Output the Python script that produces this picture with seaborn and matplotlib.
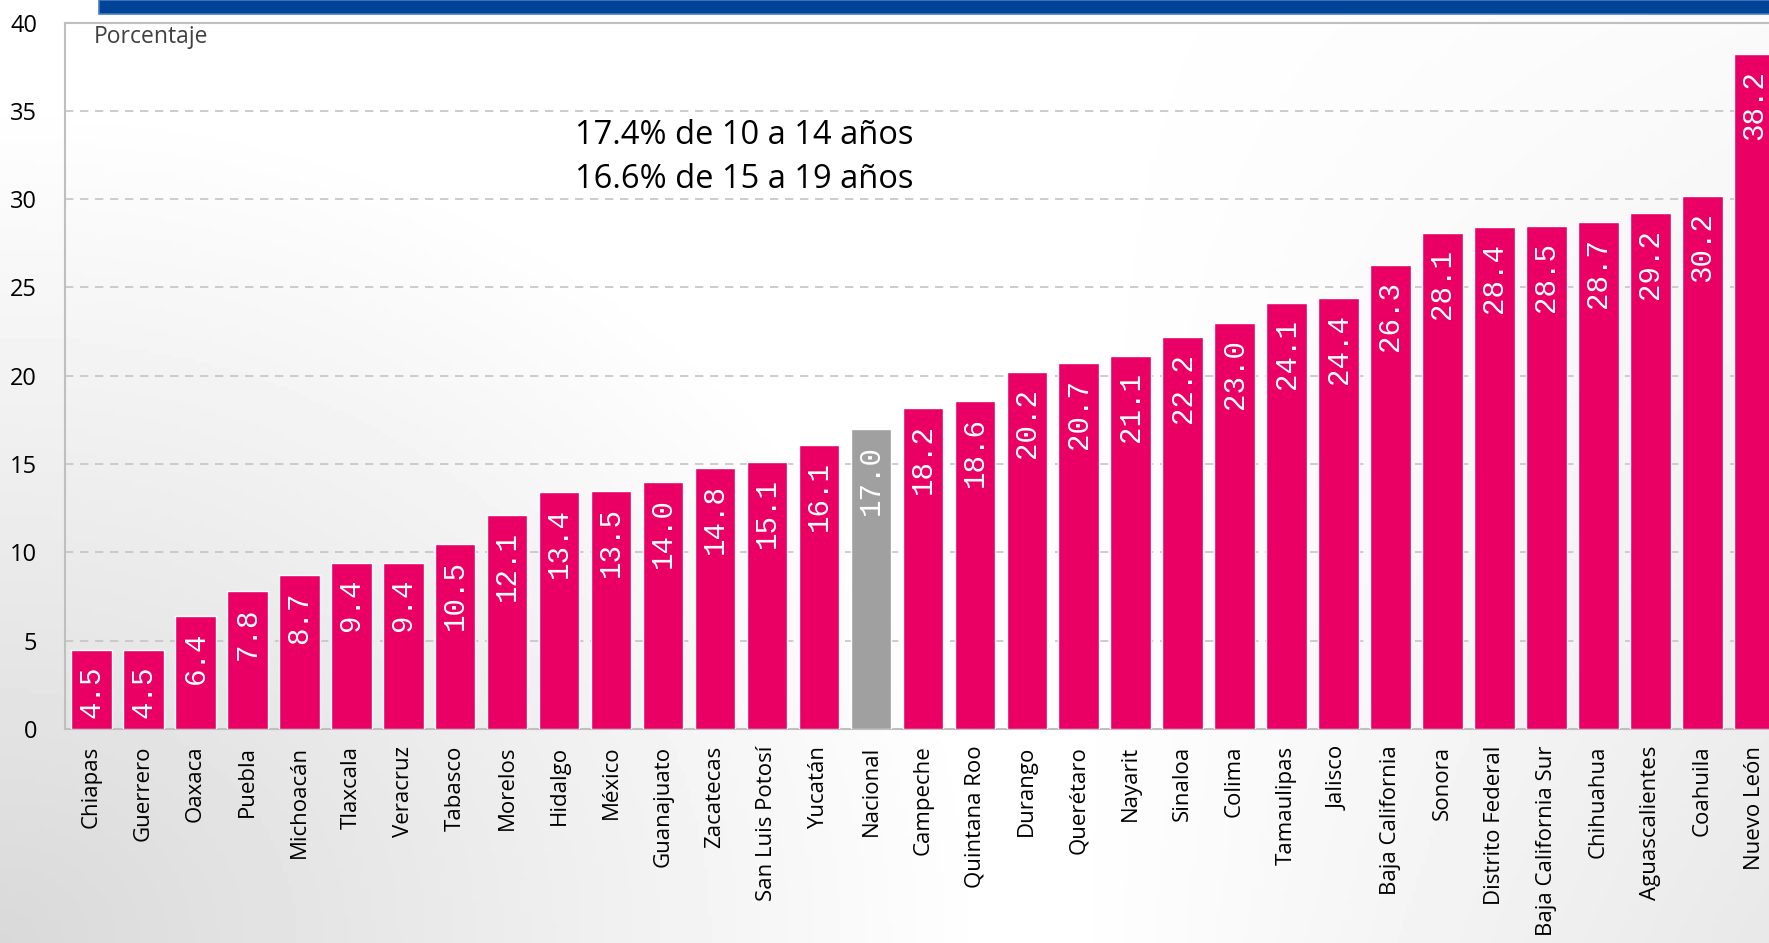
import numpy as np
import pandas as pd
import seaborn as sns
import matplotlib.pyplot as plt
from matplotlib.patches import Rectangle

estados = ['Chiapas', 'Guerrero', 'Oaxaca', 'Puebla', 'Michoacán', 'Tlaxcala', 'Veracruz',
           'Tabasco', 'Morelos', 'Hidalgo', 'México', 'Guanajuato', 'Zacatecas',
           'San Luis Potosí', 'Yucatán', 'Nacional', 'Campeche', 'Quintana Roo', 'Durango',
           'Querétaro', 'Nayarit', 'Sinaloa', 'Colima', 'Tamaulipas', 'Jalisco',
           'Baja California', 'Sonora', 'Distrito Federal', 'Baja California Sur',
           'Chihuahua', 'Aguascalientes', 'Coahuila', 'Nuevo León']
porcentaje = [4.5, 4.5, 6.4, 7.8, 8.7, 9.4, 9.4, 10.5, 12.1, 13.4, 13.5, 14.0, 14.8,
              15.1, 16.1, 17.0, 18.2, 18.6, 20.2, 20.7, 21.1, 22.2, 23.0, 24.1, 24.4,
              26.3, 28.1, 28.4, 28.5, 28.7, 29.2, 30.2, 38.2]
nota = ['17.4% de 10 a 14 años', '16.6% de 15 a 19 años']

sns.set_style('white')
plt.rcParams['font.family'] = ['Open Sans', 'DejaVu Sans']

df = pd.DataFrame({'estado': estados, 'pct': porcentaje})
pink = '#EA0064'
colores = {e: ('#A0A0A0' if e == 'Nacional' else pink) for e in estados}

W, H = 1769, 943
fig = plt.figure(figsize=(W / 100, H / 100), dpi=100)

# slide background gradient
bg = fig.add_axes([0, 0, 1, 1], zorder=-10)
yy, xx = np.mgrid[0:1:200j, 0:1:400j]
d = np.sqrt((xx * 1.6) ** 2 + (yy * 1.0) ** 2)
shade = 1 - 0.15 * np.clip(1 - d / 0.9, 0, 1) - 0.09 * np.clip((xx - 0.6) / 0.4, 0, 1) * np.clip(1 - yy * 0.8, 0, 1)
bg.imshow(shade, cmap='gray', vmin=0, vmax=1, origin='lower', extent=[0, 1, 0, 1], aspect='auto')
bg.axis('off')

# blue title banner
fig.patches.append(Rectangle((99 / W, 1 - 13.5 / H), 1, 13.5 / H, transform=fig.transFigure,
                             facecolor='#00449A', edgecolor='#4a7cc0', linewidth=1.2, zorder=5))

left_px, zero_px, top_px = 65, 729, 22.6
xmin, xmax = -0.51, len(estados) - 1 + 0.66
unit = 51.96
right_px = left_px + (xmax - xmin) * unit
ax = fig.add_axes([left_px / W, (H - zero_px) / H, (right_px - left_px) / W, (zero_px - top_px) / H])
ax.patch.set_alpha(0)

sns.barplot(data=df, x='estado', y='pct', hue='estado', palette=colores, legend=False,
            width=0.78, saturation=1, ax=ax, zorder=3)

ax.set_xlim(xmin, xmax)
ax.set_ylim(0, 40)
ax.set_yticks(range(0, 41, 5))
ax.yaxis.grid(True, linestyle=(0, (5, 4)), color='#c4c4c4', linewidth=1.2, zorder=0)
ax.set_xlabel('')
ax.set_ylabel('')
for s in ax.spines.values():
    s.set_color('#bfbfbf')
    s.set_linewidth(1.5)
ax.tick_params(axis='y', length=0, pad=20, labelsize=17, labelcolor='#000000')
ax.tick_params(axis='x', length=0, pad=12, labelsize=16, labelcolor='#000000', rotation=90)

for i, v in enumerate(porcentaje):
    ax.annotate(f'{v:.1f}', (i, v), xytext=(0, -16), textcoords='offset pixels',
                rotation=90, ha='center', va='top', color='white', fontsize=21,
                family='Liberation Mono', zorder=4)

ax.text(94 / W, 1 - 37 / H, 'Porcentaje', transform=fig.transFigure, fontsize=16.5,
        color='#404040', va='center', ha='left')
ax.text(575 / W, 1 - 136 / H, nota[0], transform=fig.transFigure, fontsize=23.5,
        color='#000000', va='center', ha='left')
ax.text(575 / W, 1 - 180 / H, nota[1], transform=fig.transFigure, fontsize=23.5,
        color='#000000', va='center', ha='left')

fig.savefig('out.png', dpi=100)
